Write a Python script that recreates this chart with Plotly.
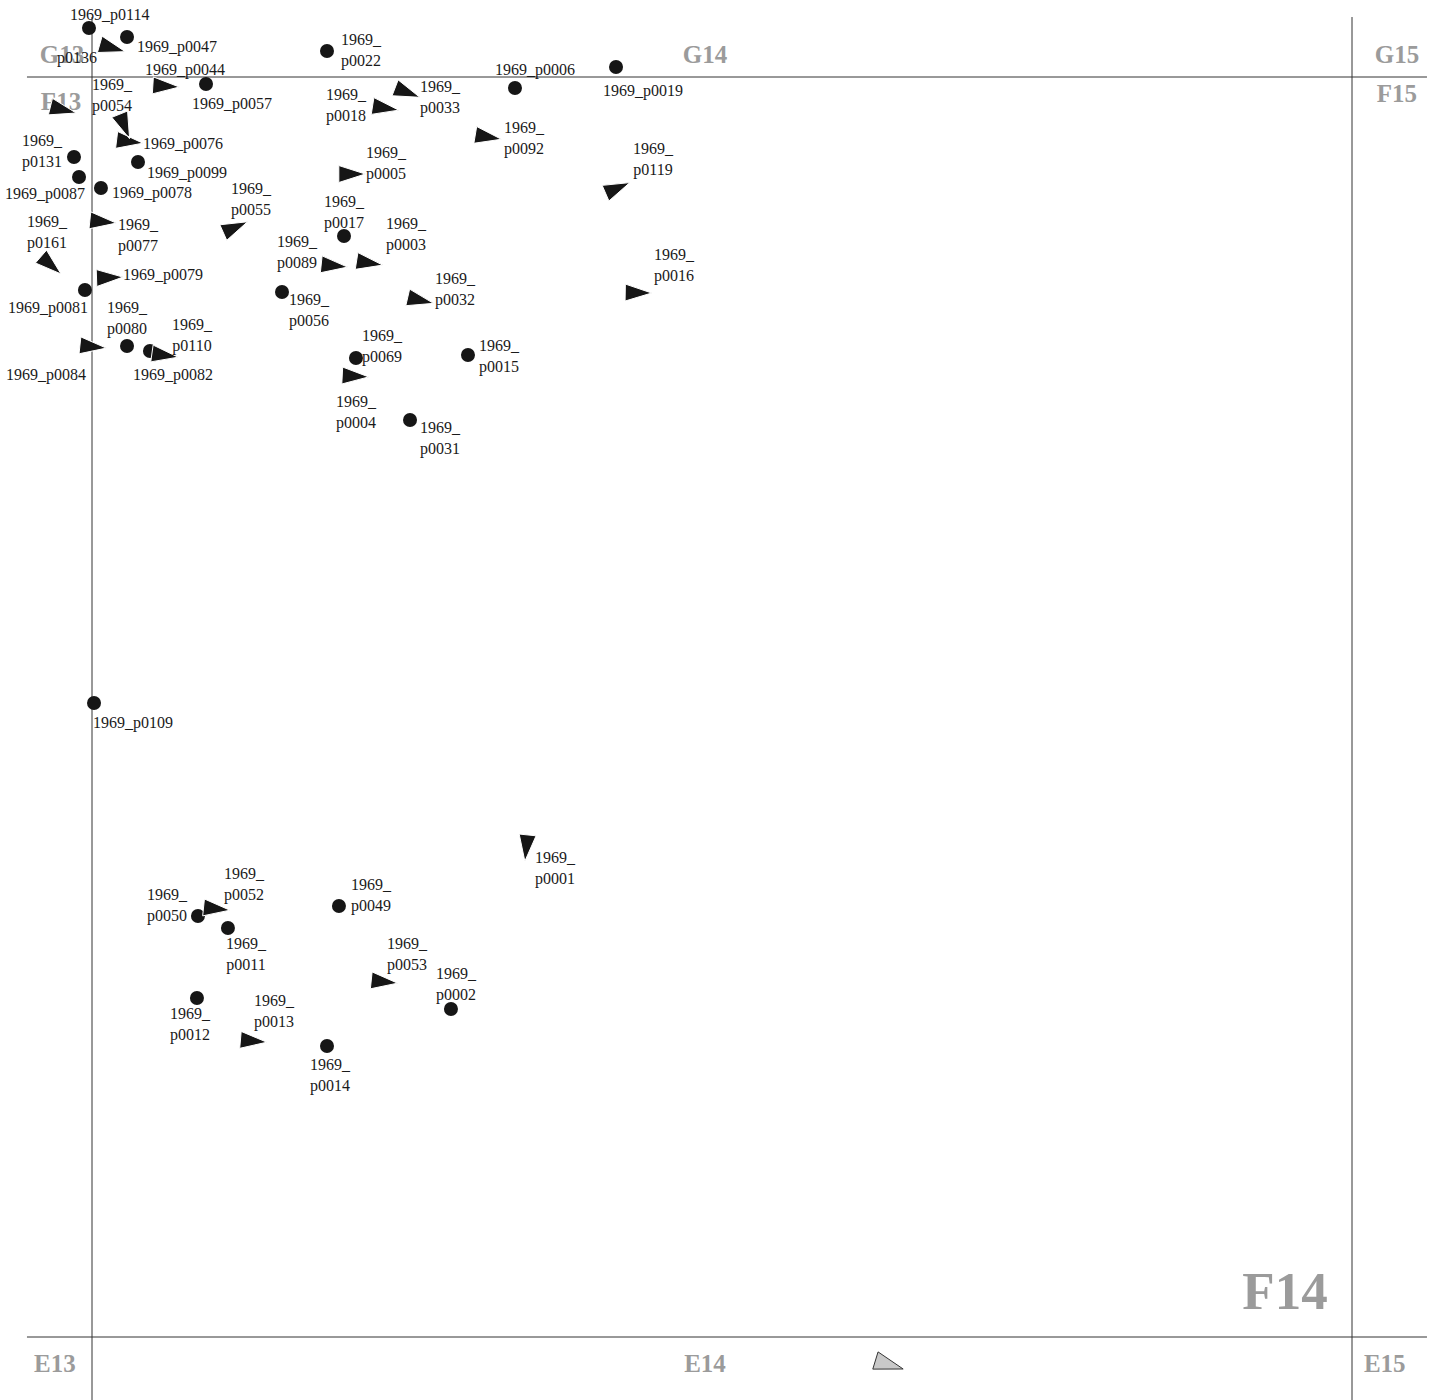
import math
import plotly.graph_objects as go

# ---------------- data (coordinates in cm, local grid F14: 0..100) ----------------
# Finds drawn as dots
pt_ids = ["p0114", "p0047", "p0057", "p0022", "p0006", "p0019", "p0131", "p0087",
          "p0099", "p0078", "p0017", "p0056", "p0081", "p0080", "p0110", "p0069",
          "p0015", "p0031", "p0109", "p0050", "p0011", "p0049", "p0012", "p0014", "p0002"]
pt_x = [-0.24, 2.78, 9.05, 18.65, 33.57, 41.59, -1.43, -1.03,
        3.65, 0.71, 20.00, 15.08, -0.56, 2.78, 4.60, 20.95,
        29.84, 25.24, 0.16, 8.41, 10.79, 19.60, 8.33, 18.65, 28.49]
pt_y = [103.89, 103.17, 99.44, 102.06, 99.13, 100.79, 93.65, 92.06,
        93.25, 91.19, 87.38, 82.94, 83.10, 78.65, 78.25, 77.70,
        77.94, 72.78, 50.32, 33.41, 32.46, 34.21, 26.90, 23.10, 26.03]
pt_labels = ["1969_p0114", "1969_p0047", "1969_p0057", "1969_<br>p0022", "1969_p0006",
             "1969_p0019", "1969_<br>p0131", "1969_p0087", "1969_p0099", "1969_p0078",
             "1969_<br>p0017", "1969_<br>p0056", "1969_p0081", "1969_<br>p0080",
             "1969_<br>p0110", "1969_<br>p0069", "1969_<br>p0015", "1969_<br>p0031",
             "1969_p0109", "1969_<br>p0050", "1969_<br>p0011", "1969_<br>p0049",
             "1969_<br>p0012", "1969_<br>p0014", "1969_<br>p0002"]

# Oriented finds drawn as arrow triangles (orientation: degrees ccw from east)
tri_ids = ["p0136", "p0044", "u01", "p0054", "p0076", "p0018", "p0033", "p0092",
           "p0005", "p0119", "p0055", "p0077", "p0161", "p0089", "p0003", "p0079",
           "p0016", "p0032", "p0084", "p0082", "p0004", "p0001", "p0052", "p0053", "p0013"]
tri_x = [1.29, 5.53, -2.62, 2.46, 2.65, 22.96, 24.71, 31.11,
         20.29, 41.40, 11.06, 0.53, -3.52, 18.89, 21.69, 1.06,
         43.02, 25.74, -0.26, 5.45, 20.56, 34.50, 9.55, 22.86, 12.48]
tri_y = [102.40, 99.29, 97.48, 96.40, 94.92, 97.59, 98.89, 95.29,
         92.30, 91.06, 87.94, 88.55, 85.29, 85.06, 85.29, 84.07,
         82.88, 82.35, 78.63, 77.96, 76.27, 39.15, 34.02, 28.23, 23.52]
tri_orient = [-16, -3.5, -14, -68, -7, -9, -21, -9.5,
              0, 23.5, 24, -6, -41, -6, -9, 2,
              -1, -13, -6, -8, -3, -96, -6, -6, -5]
tri_labels = ["p0136", "1969_p0044", "", "1969_<br>p0054", "1969_p0076", "1969_<br>p0018",
              "1969_<br>p0033", "1969_<br>p0092", "1969_<br>p0005", "1969_<br>p0119",
              "1969_<br>p0055", "1969_<br>p0077", "1969_<br>p0161", "1969_<br>p0089",
              "1969_<br>p0003", "1969_p0079", "1969_<br>p0016", "1969_<br>p0032",
              "1969_p0084", "1969_p0082", "1969_<br>p0004", "1969_<br>p0001",
              "1969_<br>p0052", "1969_<br>p0053", "1969_<br>p0013"]

# Find in neighbouring square (grey)
grey_x = [62.91]
grey_y = [-2.09]
grey_orient = [-17]

# Grid squares
grid_lines = [0, 100]
square_names = ["G13", "G14", "G15", "F13", "F15", "E13", "E14", "E15"]
square_x = [-2.38, 48.65, 103.57, -2.46, 103.57, -2.94, 48.65, 102.6]
square_y = [101.59, 101.59, 101.59, 97.9, 98.49, -2.30, -2.30, -2.30]

# ---------------- layout / styling ----------------
PX = 12.6  # pixels per cm
X_RANGE = [-92 / PX, (1438 - 92) / PX]
Y_RANGE = [(1337 - 1400) / PX, 1337 / PX]

label_offsets = {  # pixel offsets (right, down) of label centre from the find
    "p0114": (21, -14), "p0047": (50, 9), "p0057": (26, 19), "p0022": (35, -1.5),
    "p0006": (20, -19), "p0019": (27, 23), "p0131": (-31, -7), "p0087": (-34, 16),
    "p0099": (49, 10), "p0078": (51, 4), "p0017": (0, -25), "p0056": (27, 18),
    "p0081": (-37, 17), "p0080": (0, -29), "p0110": (43, -17), "p0069": (27, -12),
    "p0015": (32, 1), "p0031": (30, 18), "p0109": (39, 19), "p0050": (-30, -12),
    "p0011": (19, 25), "p0049": (33, -11), "p0012": (-6, 25), "p0014": (4, 29),
    "p0002": (6, -26),
    "p0136": (-31, 10), "p0044": (23, -17), "p0054": (-11, -28), "p0076": (58, 2),
    "p0018": (-35, -3), "p0033": (37, 6), "p0092": (41, 1.5), "p0005": (39, -12),
    "p0119": (40, -31), "p0055": (20, -30), "p0077": (40, 13), "p0161": (0, -31),
    "p0089": (-33, -14), "p0003": (41, -29), "p0079": (58, -4), "p0016": (40, -28),
    "p0032": (39, -11), "p0084": (-43, 28), "p0082": (12, 19), "p0004": (5, 35),
    "p0001": (29, 24), "p0052": (32, -25), "p0053": (27, -28), "p0013": (25, -30),
}

SERIF = "Liberation Serif, Times New Roman, serif"
INK = "#161616"
GREY_TXT = "#9b9b9b"


def triangles(xs, ys, angles, length, width):
    px, py = [], []
    for cx, cy, deg in zip(xs, ys, angles):
        a = math.radians(deg)
        dx, dy = math.cos(a), math.sin(a)
        nx, ny = -dy, dx
        bx, by = cx - length / 3 * dx, cy - length / 3 * dy
        px += [cx + 2 * length / 3 * dx, bx + width / 2 * nx, bx - width / 2 * nx,
               cx + 2 * length / 3 * dx, None]
        py += [cy + 2 * length / 3 * dy, by + width / 2 * ny, by - width / 2 * ny,
               cy + 2 * length / 3 * dy, None]
    return px, py


fig = go.Figure()

# square names (below the finds)
fig.add_trace(go.Scatter(
    x=square_x, y=square_y, mode="text", text=square_names,
    textfont=dict(family=SERIF, size=25, color=GREY_TXT, weight="bold"),
    hoverinfo="skip", showlegend=False))
fig.add_trace(go.Scatter(
    x=[94.68], y=[3.25], mode="text", text=["F14"],
    textfont=dict(family=SERIF, size=53, color=GREY_TXT, weight="bold"),
    hoverinfo="skip", showlegend=False))

# dots
fig.add_trace(go.Scatter(
    x=pt_x, y=pt_y, mode="markers",
    marker=dict(size=14, color=INK, line=dict(width=0)),
    text=pt_ids, hoverinfo="text", showlegend=False))

# triangles
tx, ty = triangles(tri_x, tri_y, tri_orient, 26.5 / PX, 17 / PX)
fig.add_trace(go.Scatter(
    x=tx, y=ty, mode="lines", fill="toself", fillcolor=INK,
    line=dict(color="white", width=1), hoverinfo="skip", showlegend=False))

gx, gy = triangles(grey_x, grey_y, grey_orient, 29 / PX, 18 / PX)
fig.add_trace(go.Scatter(
    x=gx, y=gy, mode="lines", fill="toself", fillcolor="#c9c9c9",
    line=dict(color="#333333", width=1), hoverinfo="skip", showlegend=False))

# grid lines
over = 5.1
for g in grid_lines:
    fig.add_shape(type="line", x0=g, x1=g, y0=Y_RANGE[0], y1=100 + 4.76,
                  line=dict(color="#333333", width=1), layer="below")
    fig.add_shape(type="line", x0=-over - 0.06, x1=100 + 5.95, y0=g, y1=g,
                  line=dict(color="#333333", width=1), layer="below")

# labels
annotations = []
for ids, xs, ys, labs in ((pt_ids, pt_x, pt_y, pt_labels), (tri_ids, tri_x, tri_y, tri_labels)):
    for i, x, y, lab in zip(ids, xs, ys, labs):
        if not lab:
            continue
        ox, oy = label_offsets[i]
        annotations.append(dict(
            x=x, y=y, xref="x", yref="y", text=lab, showarrow=False,
            xanchor="center", yanchor="middle", xshift=ox, yshift=-oy - 1,
            font=dict(family=SERIF, size=16, color="#1a1a1a")))

fig.update_layout(
    width=1438, height=1400,
    margin=dict(l=0, r=0, t=0, b=0),
    paper_bgcolor="white", plot_bgcolor="white",
    xaxis=dict(range=X_RANGE, visible=False, showgrid=False, zeroline=False, fixedrange=True),
    yaxis=dict(range=Y_RANGE, visible=False, showgrid=False, zeroline=False, fixedrange=True),
    annotations=annotations,
    showlegend=False,
)

fig.write_html("out.html", post_script="document.body.style.margin='0';",
               config={"displayModeBar": False})
